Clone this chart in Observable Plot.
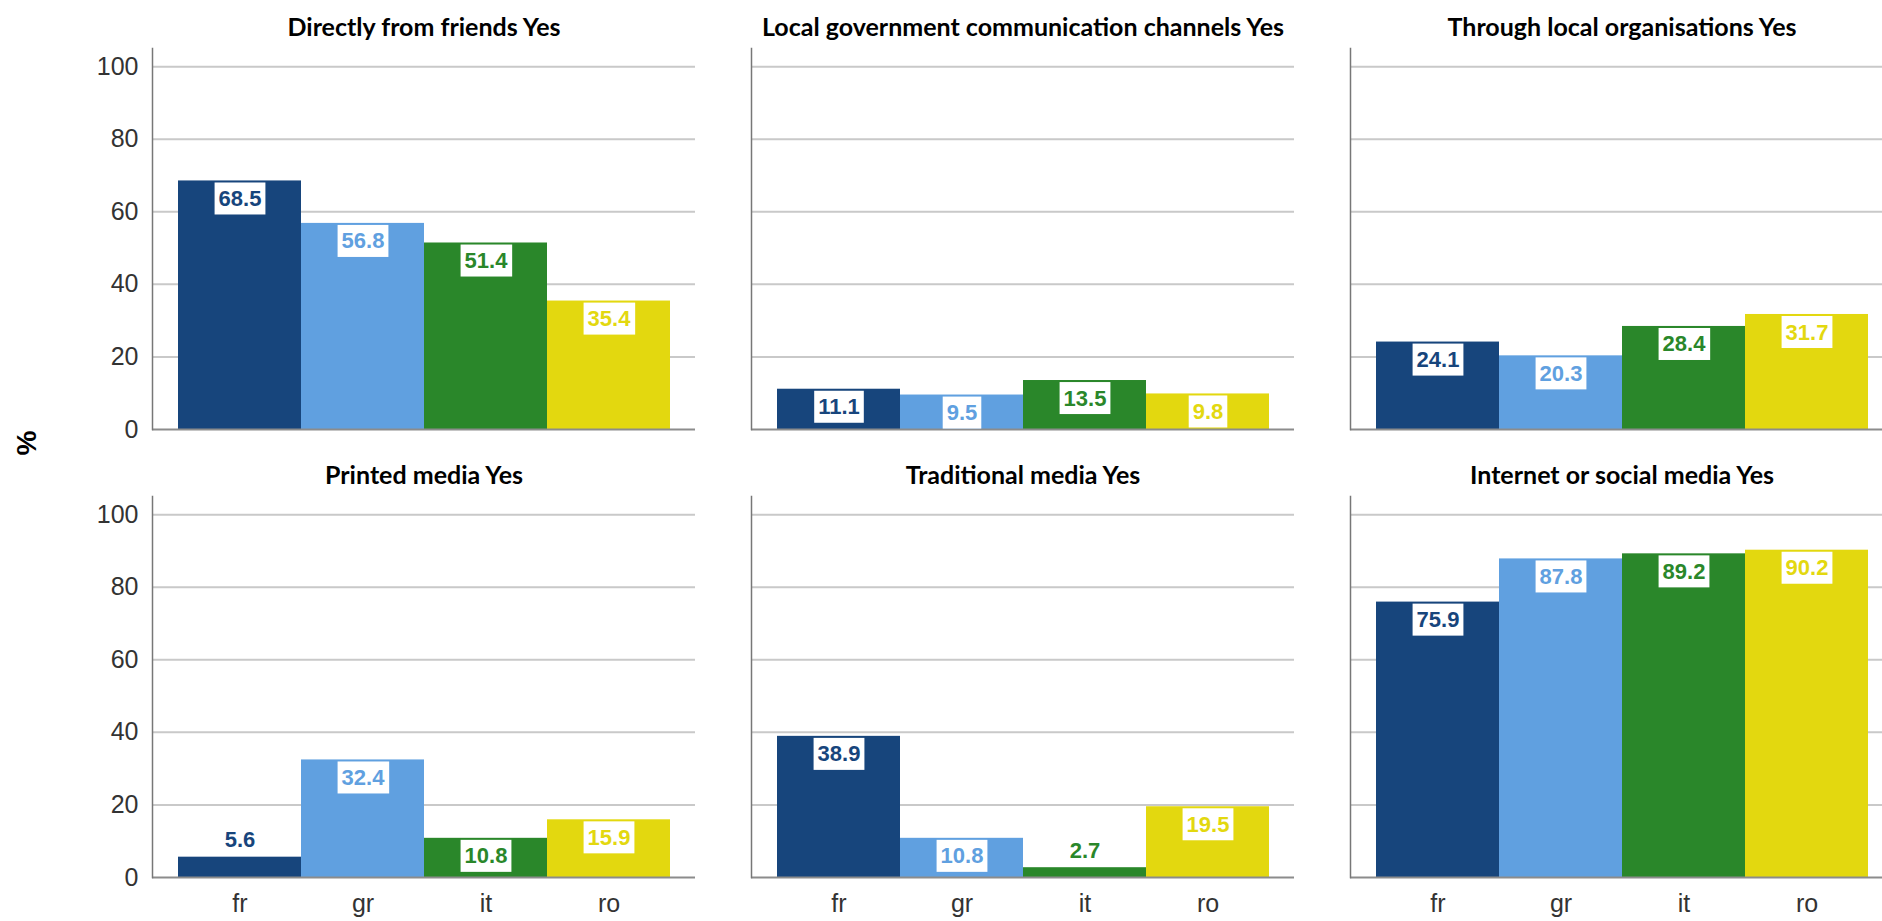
<!DOCTYPE html>
<html><head><meta charset="utf-8">
<script src="https://cdn.jsdelivr.net/npm/d3@7"></script>
<script src="https://cdn.jsdelivr.net/npm/@observablehq/plot@0.6"></script>
<style>
html,body{margin:0;padding:0;background:#fff;overflow:hidden;}
#wrap{position:relative;width:1882px;height:921px;overflow:hidden;background:#fff;}
#wrap svg{max-width:none !important;}
#ylab{position:absolute;left:27px;top:443px;transform:translate(-50%,-50%) rotate(-90deg);font:bold 28px "Liberation Sans",Arial,sans-serif;color:#000;white-space:nowrap;}
</style></head><body>
<div id="wrap"><div id="ylab">%</div></div>
<script>
// ---- data ----
const countries = ["fr", "gr", "it", "ro"];
const countryColors = ["#17457c", "#60a0e0", "#2a872a", "#e3d80f"];
const panelTitles = [
  "Directly from friends Yes",
  "Local government communication channels Yes",
  "Through local organisations Yes",
  "Printed media Yes",
  "Traditional media Yes",
  "Internet or social media Yes"
];
const friends     = [68.5, 56.8, 51.4, 35.4];
const localGov    = [11.1, 9.5, 13.5, 9.8];
const localOrgs   = [24.1, 20.3, 28.4, 31.7];
const printed     = [5.6, 32.4, 10.8, 15.9];
const traditional = [38.9, 10.8, 2.7, 19.5];
const internet    = [75.9, 87.8, 89.2, 90.2];
const yTicks = [0, 20, 40, 60, 80, 100];
const yLabel = "%";

// ---- build table ----
const series = [friends, localGov, localOrgs, printed, traditional, internet];
const rows = series.flatMap((vals, i) => countries.map((c, j) => ({
  panel: i, col: i % 3, row: Math.floor(i / 3), country: c, value: vals[j]
})));
const titles = panelTitles.map((t, i) => ({title: t, col: i % 3, row: Math.floor(i / 3)}));

document.getElementById("ylab").textContent = yLabel;

const W = 1894, H = 921, mT = 47, mB = 43, mL = 152, mR = 1;
const fyPad = 0.149, fxPad = 0.0935;
const yMax = 105;
const facetH = (H - mT - mB) / (2 - fyPad) * (1 - fyPad);
const pxPerUnit = facetH / yMax;
const fits = d => d.value * pxPerUnit >= 34;
const fmt = d => d.value.toFixed(1);

const chart = Plot.plot({
  width: W, height: H,
  marginTop: mT, marginBottom: mB, marginLeft: mL, marginRight: mR,
  style: {fontFamily: '"Liberation Sans", Arial, sans-serif', background: "white", overflow: "visible", maxWidth: "none"},
  fx: {domain: [0, 1, 2], paddingInner: fxPad, paddingOuter: 0, axis: null},
  fy: {domain: [0, 1], paddingInner: fyPad, paddingOuter: 0, axis: null},
  x: {domain: countries, padding: 0, insetLeft: 26, insetRight: 25, label: null},
  y: {domain: [0, yMax], label: null},
  color: {domain: countries, range: countryColors},
  marks: [
    Plot.ruleY(yTicks.filter(t => t > 0), {stroke: "#c9c9c9", strokeWidth: 2}),
    Plot.barY(rows, {fx: "col", fy: "row", x: "country", y: "value", fill: "country"}),
    Plot.ruleY([0], {stroke: "#8c8c8c", strokeWidth: 2}),
    Plot.frame({anchor: "left", stroke: "#777", strokeWidth: 1.5}),
    Plot.axisY({ticks: yTicks, tickSize: 0, tickPadding: 14, fontSize: 25, fill: "#333", label: null}),
    Plot.axisX({tickSize: 0, tickPadding: 17, fontSize: 25, fill: "#333", label: null}),
    Plot.text(rows.filter(fits), {fx: "col", fy: "row", x: "country", y: "value", text: fmt, fill: "country", fontWeight: "bold", fontSize: 22, dy: 18}),
    Plot.text(rows.filter(d => !fits(d)), {fx: "col", fy: "row", x: "country", y: "value", text: fmt, fill: "country", fontWeight: "bold", fontSize: 22, dy: -17}),
    Plot.text(titles, {fx: "col", fy: "row", text: "title", frameAnchor: "top", lineAnchor: "middle", dy: -21, fontWeight: "bold", fontSize: 25, fill: "#000", fontFamily: "Lato"})
  ]
});
document.getElementById("wrap").prepend(chart);

// white label boxes behind value labels
chart.querySelectorAll("text").forEach(t => {
  if (/^\d+\.\d$/.test(t.textContent)) {
    const b = t.getBBox();
    const cy = b.y + b.height / 2;
    const r = document.createElementNS("http://www.w3.org/2000/svg", "rect");
    r.setAttribute("x", b.x - 4);
    r.setAttribute("width", b.width + 8);
    r.setAttribute("y", cy - 16);
    r.setAttribute("height", 32);
    r.setAttribute("fill", "white");
    r.setAttribute("stroke", "none");
    const tr = t.getAttribute("transform");
    if (tr) r.setAttribute("transform", tr);
    t.parentNode.insertBefore(r, t);
  }
});
</script>
</body></html>
